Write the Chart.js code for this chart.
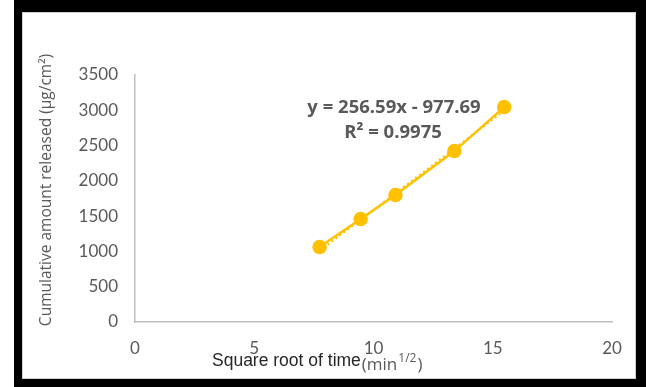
<html lang="en">
<head>
    <title>Cumulative release vs square root of time</title>
    <script src="https://cdn.jsdelivr.net/npm/chart.js@4.4.1/dist/chart.umd.min.js"></script>
    <style>
        body { margin: 0; background: #fff; }
        #wrap { position: relative; width: 648px; height: 387px; }
        #frame {
            position: absolute; left: 14px; top: 0; width: 614px; height: 367px;
            border-style: solid; border-color: #000;
            border-width: 12px 10px 8px 8px;
            box-shadow: inset 0 0 0 1px #cfcfcf;
            pointer-events: none;
        }
    </style>
</head>
<body>
<div id="wrap">
    <canvas id="release-chart" width="648" height="387"></canvas>
    <div id="frame"></div>
</div>
<script>
    // values
    const sqrtTime = [7.74, 9.46, 10.92, 13.39, 15.48];
    const released = [1062, 1459, 1799, 2422, 3045];
    const trendX = [7.74, 15.48];
    const trendY = [1008, 2994];
    const equationLines = ['y = 256.59x - 977.69', 'R\u00b2 = 0.9975'];

    const gold = '#FFC000';
    const grey = '#595959';

    const toPoints = (xs, ys) => xs.map((x, i) => ({x: x, y: ys[i]}));

    const labelsPlugin = {
        id: 'labels',
        afterDraw(chart) {
            const ctx = chart.ctx;
            ctx.save();
            // trendline equation
            ctx.fillStyle = grey;
            ctx.textAlign = 'center';
            ctx.textBaseline = 'middle';
            ctx.font = 'bold 18.5px "Open Sans"';
            ctx.fillText(equationLines[0], 394, 108);
            ctx.fillText(equationLines[1], 393, 133);

            // y axis title
            ctx.save();
            ctx.translate(47, 190);
            ctx.rotate(-Math.PI / 2);
            ctx.font = '15.5px "Open Sans"';
            ctx.fillStyle = grey;
            ctx.fillText('Cumulative amount released (\u00b5g/cm\u00b2)', 0, 0);
            ctx.restore();

            // x axis title
            ctx.textAlign = 'left';
            ctx.textBaseline = 'alphabetic';
            ctx.font = '17.5px "Liberation Sans"';
            ctx.fillStyle = '#262626';
            ctx.fillText('Square root of time', 212, 366);
            let x = 213 + ctx.measureText('Square root of time').width;
            ctx.font = '17px "Open Sans"';
            ctx.fillStyle = grey;
            ctx.fillText('(min', x, 370);
            x += ctx.measureText('(min').width;
            ctx.font = '12px "Open Sans"';
            ctx.fillText('1/2', x + 1, 362);
            x += ctx.measureText('1/2').width + 2;
            ctx.font = '17px "Open Sans"';
            ctx.fillText(')', x, 370);
            ctx.restore();
        }
    };

    const tickFont = {family: 'Lato', size: 17};

    new Chart(document.getElementById('release-chart'), {
        type: 'scatter',
        data: {
            datasets: [{
                label: 'Release',
                data: toPoints(sqrtTime, released),
                showLine: true,
                borderColor: gold,
                backgroundColor: gold,
                borderWidth: 2.5,
                pointRadius: 6,
                pointHoverRadius: 6
            }, {
                label: 'Linear trend',
                data: toPoints(trendX, trendY),
                showLine: true,
                borderColor: gold,
                borderWidth: 2,
                borderDash: [2, 3],
                pointRadius: 0
            }]
        },
        options: {
            responsive: false,
            animation: false,
            events: [],
            layout: {padding: {left: 0, top: 75, right: 36, bottom: 0}},
            plugins: {legend: {display: false}, tooltip: {enabled: false}},
            scales: {
                x: {
                    type: 'linear',
                    min: 0, max: 20,
                    grid: {display: false, drawTicks: false},
                    border: {display: true, color: '#BFBFBF', width: 1.5},
                    ticks: {stepSize: 5, padding: 16, color: grey, font: tickFont,
                        callback: v => String(v)},
                    afterFit(scale) { scale.height = 65; }
                },
                y: {
                    min: 0, max: 3500,
                    grid: {display: false, drawTicks: false},
                    border: {display: true, color: '#BFBFBF', width: 1.5},
                    ticks: {stepSize: 500, padding: 17, color: grey, font: tickFont,
                        callback: v => String(v)},
                    afterFit(scale) { scale.width = 135; }
                }
            }
        },
        plugins: [labelsPlugin]
    });
</script>
</body>
</html>
